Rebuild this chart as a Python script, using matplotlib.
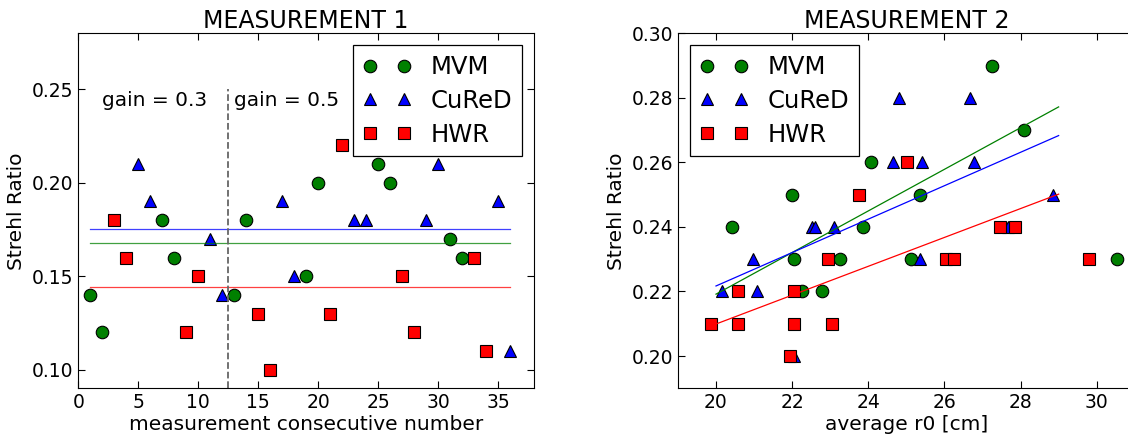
"""Strehl ratio comparison of MVM, CuReD and HWR reconstructors over two
measurement runs: time series with gain switch, and ratio vs seeing (r0)."""

import numpy as np
import matplotlib

matplotlib.use("Agg")
import matplotlib.pyplot as plt

# ---- measurement 1: consecutive measurement number vs Strehl ratio ----
m1_mvm_n = [1, 2, 7, 8, 13, 14, 19, 20, 25, 26, 31, 32]
m1_mvm_sr = [0.14, 0.12, 0.18, 0.16, 0.14, 0.18, 0.15, 0.20, 0.21, 0.20, 0.17, 0.16]
m1_cured_n = [5, 6, 11, 12, 17, 18, 23, 24, 29, 30, 35, 36]
m1_cured_sr = [0.21, 0.19, 0.17, 0.14, 0.19, 0.15, 0.18, 0.18, 0.18, 0.21, 0.19, 0.11]
m1_hwr_n = [3, 4, 9, 10, 15, 16, 21, 22, 27, 28, 33, 34]
m1_hwr_sr = [0.18, 0.16, 0.12, 0.15, 0.13, 0.10, 0.13, 0.22, 0.15, 0.12, 0.16, 0.11]
gain_switch = 12.5
gain_labels = ["gain = 0.3", "gain = 0.5"]

# ---- measurement 2: average r0 [cm] vs Strehl ratio ----
m2_mvm_r0 = [20.41, 22.0, 22.05, 22.27, 22.79, 23.26, 23.85, 24.07, 25.12, 25.36,
             27.25, 28.1, 30.53]
m2_mvm_sr = [0.24, 0.25, 0.23, 0.22, 0.22, 0.23, 0.24, 0.26, 0.23, 0.25,
             0.29, 0.27, 0.23]
m2_cured_r0 = [20.17, 20.96, 21.07, 22.05, 22.53, 22.6, 23.1, 24.64, 24.8, 25.36,
               25.41, 26.66, 26.79, 27.67, 28.85]
m2_cured_sr = [0.22, 0.23, 0.22, 0.20, 0.24, 0.24, 0.24, 0.26, 0.28, 0.23,
               0.26, 0.28, 0.26, 0.24, 0.25]
m2_hwr_r0 = [19.88, 20.58, 20.58, 21.95, 22.05, 22.05, 22.95, 23.04, 23.76, 25.01,
             26.04, 26.26, 27.45, 27.86, 29.8]
m2_hwr_sr = [0.21, 0.22, 0.21, 0.20, 0.22, 0.21, 0.23, 0.21, 0.25, 0.26,
             0.23, 0.23, 0.24, 0.24, 0.23]
# linear trend fitted on r0 <= 29 only, drawn over 20..29
fit_range = (20, 29)

methods = ["MVM", "CuReD", "HWR"]
colors = ["#008000", "#0000ff", "#ff0000"]
markers = ["o", "^", "s"]

plt.rcParams["font.family"] = "DejaVu Sans"
fig = plt.figure(figsize=(11.28, 4.34), dpi=100)
ax1 = fig.add_axes([0.0694, 0.1053, 0.404, 0.818])
ax2 = fig.add_axes([0.601, 0.1053, 0.405, 0.818])

m1 = [(m1_mvm_n, m1_mvm_sr), (m1_cured_n, m1_cured_sr), (m1_hwr_n, m1_hwr_sr)]
m2 = [(m2_mvm_r0, m2_mvm_sr), (m2_cured_r0, m2_cured_sr), (m2_hwr_r0, m2_hwr_sr)]

marker_kw = dict(linestyle="none", markersize=9, markeredgecolor="black",
                 markeredgewidth=0.8)

# left: series + mean lines
for (x, y), name, c, mk in zip(m1, methods, colors, markers):
    ax1.plot(x, y, marker=mk, color=c, label=name, **marker_kw)
n_lo = min(min(x) for x, _ in m1)
n_hi = max(max(x) for x, _ in m1)
for (x, y), c in zip(m1, colors):
    ax1.plot([n_lo, n_hi], [np.mean(y)] * 2, color=c, linewidth=0.9, alpha=0.75)
ax1.axvline(gain_switch, ymax=(0.25 - 0.09) / (0.28 - 0.09), color="0.4",
            linestyle="--", linewidth=1.3)
ax1.text(2, 0.244, gain_labels[0], fontsize=14.5, va="center")
ax1.text(13, 0.244, gain_labels[1], fontsize=14.5, va="center")
ax1.set_xlim(0, 38)
ax1.set_ylim(0.09, 0.28)
ax1.set_yticks([0.10, 0.15, 0.20, 0.25])
ax1.set_xticks(range(0, 40, 5))
ax1.set_xlabel("measurement consecutive number", fontsize=14.5, labelpad=2)
ax1.set_ylabel("Strehl Ratio", fontsize=14.5, labelpad=4)
ax1.set_title("MEASUREMENT 1", fontsize=17, pad=3.5)

# right: series + linear fits
for (x, y), name, c, mk in zip(m2, methods, colors, markers):
    ax2.plot(x, y, marker=mk, color=c, label=name, **marker_kw)
xf = np.linspace(*fit_range, 50)
for (x, y), c in zip(m2, colors):
    x, y = np.asarray(x), np.asarray(y)
    keep = x <= fit_range[1]
    k, b = np.polyfit(x[keep], y[keep], 1)
    ax2.plot(xf, k * xf + b, color=c, linewidth=0.9)
ax2.set_xlim(19, 31)
ax2.set_ylim(0.19, 0.30)
ax2.set_xticks(range(20, 32, 2))
ax2.set_yticks(np.arange(0.20, 0.301, 0.02))
ax2.set_xlabel("average r0 [cm]", fontsize=14.5, labelpad=2)
ax2.set_ylabel("Strehl Ratio", fontsize=14.5, labelpad=4)
ax2.set_title("MEASUREMENT 2", fontsize=17, pad=3.5)

for ax, loc in ((ax1, "upper right"), (ax2, "upper left")):
    ax.tick_params(direction="in", top=True, right=True, length=5,
                   labelsize=13.5, pad=3.5)
    leg = ax.legend(loc=loc, numpoints=2, fontsize=17.5, fancybox=False,
                    framealpha=1, edgecolor="black", handlelength=2.0,
                    borderpad=0.4, labelspacing=0.4, handletextpad=0.8)
    leg.get_frame().set_linewidth(0.9)

fig.savefig("out.png", dpi=100)
